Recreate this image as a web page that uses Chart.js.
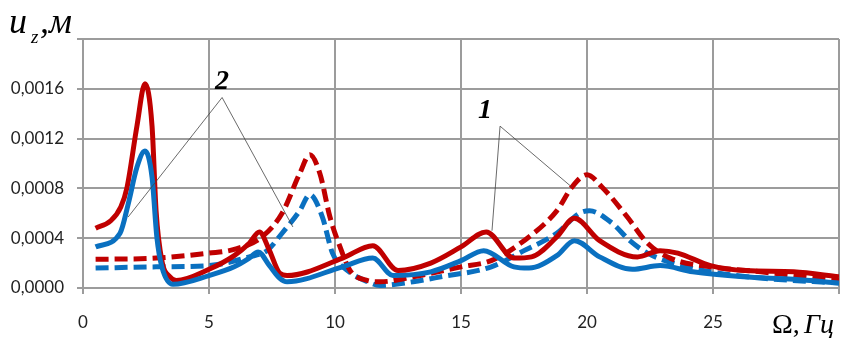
<!DOCTYPE html>
<html>
<head>
<meta charset="utf-8">
<script src="https://cdn.jsdelivr.net/npm/chart.js@4.4.1/dist/chart.umd.min.js"></script>
<style>
  html, body { margin: 0; padding: 0; background: #fff; }
  #wrap { position: relative; width: 849px; height: 338px; }
</style>
</head>
<body>
<div id="wrap"><canvas id="uz"></canvas></div>
<script>
// frequency, Hz
const redSolidX = [0.5, 1.1, 1.5, 1.75, 2.14, 2.46, 2.74, 2.9, 3.13, 3.45, 3.7, 5, 6, 6.6, 7.0, 7.4, 7.8, 8.1, 10.3, 11.5, 12.5, 13.8, 15, 16.0, 17.1, 17.8, 18.8, 19.5, 20.5, 22, 22.9, 23.6, 24.9, 26.3, 28.2, 30];
const redSolidY = [0.00048, 0.00054, 0.00065, 0.00081, 0.0013, 0.00164, 0.0013, 0.00062, 0.00022, 0.00009, 0.00006, 0.00015, 0.00026, 0.00036, 0.00045, 0.0003, 0.00012, 0.0001, 0.00024, 0.00034, 0.00014, 0.0002, 0.00033, 0.00045, 0.00024, 0.00025, 0.00041, 0.00056, 0.00038, 0.00025, 0.0003, 0.00028, 0.00018, 0.00014, 0.00013, 0.00009];

const blueSolidX = [0.5, 1.47, 1.8, 2.14, 2.46, 2.74, 2.93, 3.13, 3.57, 5, 6, 6.6, 6.95, 7.4, 7.8, 8.1, 10.3, 11.5, 12.3, 13.8, 15, 15.9, 17.1, 17.7, 18.8, 19.5, 20.5, 21.8, 22.9, 24.2, 26.2, 28.2, 30];
const blueSolidY = [0.00033, 0.00044, 0.00068, 0.00097, 0.0011, 0.00089, 0.00041, 0.00017, 0.00003, 0.0001, 0.00017, 0.00024, 0.00029, 0.00018, 0.00008, 0.00005, 0.00017, 0.00024, 0.0001, 0.00013, 0.00022, 0.0003, 0.00017, 0.00016, 0.00026, 0.00038, 0.00025, 0.00015, 0.00018, 0.00013, 0.00009, 0.00007, 0.00004];

const redDashX = [0.5, 2.9, 5, 6, 7.1, 7.9, 8.6, 9.0, 9.4, 9.8, 10.2, 10.6, 11.3, 11.8, 13.1, 15, 16.2, 17.5, 18.8, 19.4, 20, 20.6, 21.6, 22.4, 23.3, 24.9, 26.9, 30];
const redDashY = [0.00023, 0.00024, 0.00028, 0.00031, 0.00041, 0.0006, 0.00092, 0.00107, 0.00092, 0.00057, 0.00033, 0.00014, 0.00006, 0.00005, 0.00009, 0.00017, 0.00022, 0.00038, 0.00062, 0.00081, 0.00091, 0.00081, 0.00057, 0.00036, 0.00024, 0.00017, 0.00013, 0.00006];

const blueDashX = [0.5, 2.9, 5, 6.6, 7.3, 7.9, 8.6, 9.0, 9.5, 9.9, 10.5, 11.3, 11.8, 13.1, 14.2, 16.2, 17.5, 18.8, 19.7, 20.1, 21, 21.7, 22.4, 23.4, 24.9, 26.9, 30];
const blueDashY = [0.00016, 0.00017, 0.00018, 0.00025, 0.0003, 0.00044, 0.00062, 0.00075, 0.00057, 0.00028, 0.00014, 0.00005, 0.00002, 0.00005, 0.00009, 0.00017, 0.0003, 0.00044, 0.0006, 0.00062, 0.00052, 0.00038, 0.00028, 0.0002, 0.00013, 0.00008, 0.00004];

// callout leaders: end, corner, end
const lead1X = [16.23, 16.55, 19.4];
const lead1Y = [0.00046, 0.0013, 0.00081];
const lead2X = [1.79, 5.52, 8.33];
const lead2Y = [0.00057, 0.00153, 0.00049];

const callouts = [
  { text: "1", x: 15.95, y: 0.00142 },
  { text: "2", x: 5.52, y: 0.00166 },
];

const xTicksMax = 30;
const yTicksMax = 0.002;

const RED = "#c00000";
const BLUE = "#0a70c0";
const GRID = "#9c9c9c";

function pts(xs, ys) {
  return xs.map(function (x, i) { return { x: x, y: ys[i] }; });
}

function curve(xs, ys, color, dashed) {
  return {
    data: pts(xs, ys),
    borderColor: color,
    borderWidth: 5,
    borderDash: dashed ? [13, 6] : [],
    pointRadius: 0,
    fill: false,
    cubicInterpolationMode: "monotone",
    borderCapStyle: "butt",
    borderJoinStyle: "round",
  };
}

function leader(xs, ys) {
  return {
    data: pts(xs, ys),
    borderColor: "#444",
    borderWidth: 0.8,
    pointRadius: 0,
    fill: false,
    tension: 0,
  };
}

const labelsPlugin = {
  id: "labels",
  afterDraw: function (chart) {
    const ctx = chart.ctx;
    const xs = chart.scales.x;
    const ys = chart.scales.y;
    ctx.save();
    ctx.fillStyle = "#000";
    ctx.textBaseline = "middle";
    ctx.textAlign = "center";
    ctx.font = "italic bold 28px 'Liberation Serif', serif";
    callouts.forEach(function (c) {
      ctx.fillText(c.text, xs.getPixelForValue(c.x), ys.getPixelForValue(c.y));
    });

    // y axis title: u_z, м
    ctx.textAlign = "left";
    ctx.textBaseline = "alphabetic";
    ctx.font = "italic 36px 'Liberation Serif', serif";
    ctx.fillText("u", 9, 33);
    ctx.font = "italic 19px 'Liberation Serif', serif";
    ctx.fillText("z", 31, 43);
    ctx.font = "italic 36px 'Liberation Serif', serif";
    ctx.fillText(",", 40, 33);
    ctx.fillText("м", 49, 33);

    // x axis title: Ω, Гц
    ctx.font = "28px 'Liberation Serif', serif";
    ctx.fillText("Ω,", 772, 333);
    ctx.font = "italic 28px 'Liberation Serif', serif";
    ctx.fillText("Гц", 804, 333);
    ctx.restore();
  },
};

document.addEventListener("DOMContentLoaded", function () {
  const el = document.getElementById("uz");
  new Chart(el, {
    type: "line",
    data: {
      datasets: [
        leader(lead1X, lead1Y),
        leader(lead2X, lead2Y),
        curve(blueSolidX, blueSolidY, BLUE, false),
        curve(redSolidX, redSolidY, RED, false),
        curve(redDashX, redDashY, RED, true),
        curve(blueDashX, blueDashY, BLUE, true),
      ],
    },
    options: {
      responsive: true,
      maintainAspectRatio: false,
      animation: false,
      layout: { padding: { top: 39, right: 10, left: 0, bottom: 0 } },
      scales: {
        x: {
          type: "linear",
          min: 0,
          max: xTicksMax,
          grid: { color: GRID, lineWidth: 2, tickLength: 6 },
          border: { color: GRID, width: 2 },
          ticks: {
            stepSize: 5,
            padding: 18,
            color: "#222",
            font: { family: "Lato", size: 17 },
            maxRotation: 0,
            callback: function (v) { return v >= xTicksMax ? "" : String(v); },
          },
          afterFit: function (s) {
            s.height = 50;
            s.paddingLeft = 0;
            s.paddingRight = 0;
          },
        },
        y: {
          min: 0,
          max: yTicksMax,
          grid: { color: GRID, lineWidth: 2, tickLength: 6 },
          border: { color: GRID, width: 2 },
          ticks: {
            stepSize: 0.0004,
            padding: 13,
            color: "#222",
            font: { family: "Lato", size: 17 },
            callback: function (v) {
              if (v > yTicksMax - 0.0001) return "";
              return v.toFixed(4).replace(".", ",");
            },
          },
          afterFit: function (s) {
            s.width = 83;
            s.paddingTop = 0;
            s.paddingBottom = 0;
          },
        },
      },
      plugins: {
        legend: { display: false },
        tooltip: { enabled: false },
      },
    },
    plugins: [labelsPlugin],
  });
});
</script>
</body>
</html>
